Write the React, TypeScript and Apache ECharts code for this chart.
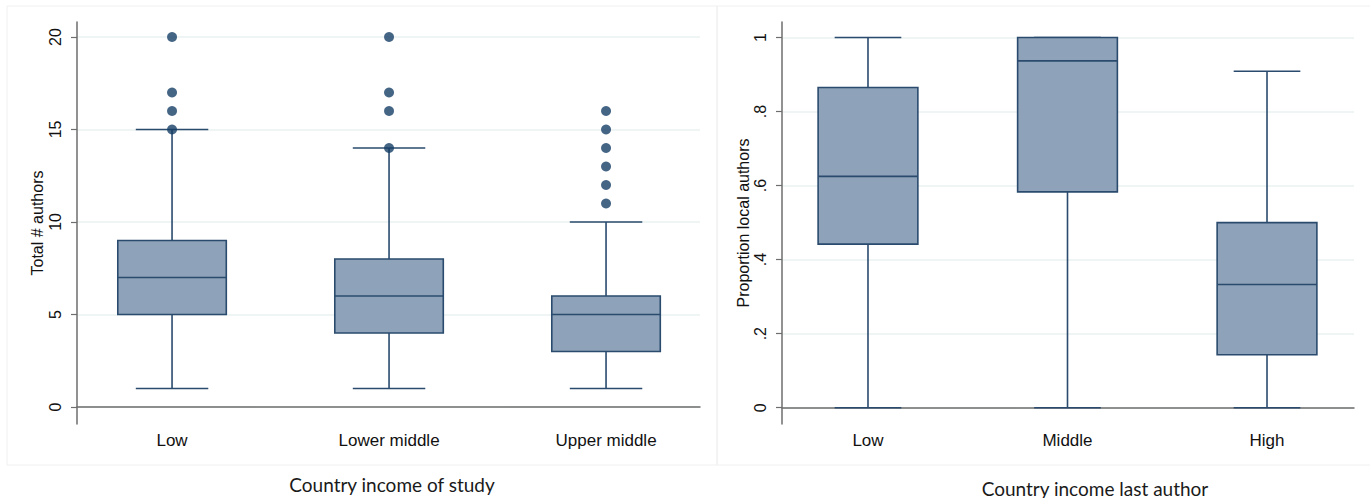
import React, { useEffect, useRef } from "react";
import * as echarts from "echarts";

// ---------- data ----------
const leftCategories = ["Low", "Lower middle", "Upper middle"];
// [min whisker, Q1, median, Q3, max whisker]
const leftLow = [1, 5, 7, 9, 15];
const leftLowerMiddle = [1, 4, 6, 8, 14];
const leftUpperMiddle = [1, 3, 5, 6, 10];
const leftOutliersLow = [15, 16, 17, 20];
const leftOutliersLowerMiddle = [14, 16, 17, 20];
const leftOutliersUpperMiddle = [11, 12, 13, 14, 15, 16];
const leftTicks = [0, 5, 10, 15, 20];

const rightCategories = ["Low", "Middle", "High"];
const rightLow = [0, 0.442, 0.625, 0.865, 1];
const rightMiddle = [0, 0.583, 0.937, 1, 1];
const rightHigh = [0, 0.143, 0.333, 0.5, 0.909];
const rightTicks = [0, 0.2, 0.4, 0.6, 0.8, 1];
const rightTickLabels = ["0", ".2", ".4", ".6", ".8", "1"];

const leftTitle = "Country income of study";
const rightTitle = "Country income last author";
const leftYName = "Total # authors";
const rightYName = "Proportion local authors";

// ---------- styles ----------
const BOX_FILL = "#8ea3b9";
const BOX_STROKE = "#2a4b6e";
const DOT = "#173f66";
const GRID = "#eaf0f1";
const AXIS = "#6e6e6e";
const BOX_HALF = 0.25;
const CAP_HALF = 0.167;

function renderBox(params: any, api: any) {
  const x = api.value(0);
  const lo = api.value(1);
  const q1 = api.value(2);
  const med = api.value(3);
  const q3 = api.value(4);
  const hi = api.value(5);
  const cx = api.coord([x, med])[0];
  const y = (v: number) => api.coord([x, v])[1];
  const bl = api.coord([x - BOX_HALF, q3]);
  const br = api.coord([x + BOX_HALF, q1]);
  const capL = api.coord([x - CAP_HALF, lo])[0];
  const capR = api.coord([x + CAP_HALF, lo])[0];
  const ls = { stroke: BOX_STROKE, lineWidth: 1.6 };
  return {
    type: "group",
    children: [
      { type: "line", shape: { x1: cx, y1: y(hi), x2: cx, y2: y(q3) }, style: ls },
      { type: "line", shape: { x1: cx, y1: y(q1), x2: cx, y2: y(lo) }, style: ls },
      { type: "line", shape: { x1: capL, y1: y(hi), x2: capR, y2: y(hi) }, style: ls },
      { type: "line", shape: { x1: capL, y1: y(lo), x2: capR, y2: y(lo) }, style: ls },
      {
        type: "rect",
        shape: { x: bl[0], y: bl[1], width: br[0] - bl[0], height: br[1] - bl[1] },
        style: { fill: BOX_FILL, stroke: BOX_STROKE, lineWidth: 1.6 },
      },
      { type: "line", shape: { x1: bl[0], y1: y(med), x2: br[0], y2: y(med) }, style: ls },
    ],
  };
}

function boxRows(boxes: number[][]) {
  return boxes.map((b, i) => [i + 1, ...b]);
}
function outlierRows(groups: number[][]) {
  const out: number[][] = [];
  groups.forEach((g, i) => g.forEach((v) => out.push([i + 1, v])));
  return out;
}

const fmtProp = (v: any) => {
  const num = typeof v === "number" ? v : parseFloat(v);
  let best = 0;
  rightTicks.forEach((t, i) => {
    if (Math.abs(t - num) < Math.abs(rightTicks[best] - num)) best = i;
  });
  return rightTickLabels[best];
};

export default function App() {
  const ref = useRef<HTMLDivElement>(null);
  useEffect(() => {
    document.body.style.margin = "0";
    const chart = echarts.init(ref.current!, null, { renderer: "svg" });
    const font = "'Liberation Sans', Arial, sans-serif";
    const yAxisCommon = (ticks: number[], formatter: any, name: string, gap: number, min: number, max: number) => ({
      type: "value",
      min,
      max,
      name,
      nameLocation: "middle",
      nameGap: gap,
      nameTextStyle: { fontFamily: font, fontSize: 16, color: "#111" },
      axisLine: { show: true, lineStyle: { color: AXIS, width: 1.5 } },
      axisTick: { show: true, length: 6, customValues: ticks, lineStyle: { color: AXIS, width: 1.2 } },
      axisLabel: {
        customValues: ticks,
        rotate: 90,
        margin: 14,
        formatter,
        fontFamily: font,
        fontSize: 16,
        color: "#111",
      },
      splitLine: { show: true, lineStyle: { color: GRID, width: 1.5 } },
    });
    const xAxisCommon = (cats: string[], min: number, max: number) => ({
      type: "value",
      min,
      max,
      axisLine: { show: true, lineStyle: { color: AXIS, width: 1.5 } },
      axisTick: { show: false },
      splitLine: { show: false },
      axisLabel: {
        customValues: [1, 2, 3],
        formatter: (v: number) => cats[Math.round(v) - 1] ?? "",
        margin: 8,
        fontFamily: font,
        fontSize: 17,
        color: "#111",
      },
    });
    chart.setOption({
      animation: false,
      backgroundColor: "#ffffff",
      grid: [
        { left: 77, top: 22, width: 623, height: 402 },
        { left: 782, top: 22, width: 572, height: 402 },
      ],
      xAxis: [
        { gridIndex: 0, ...xAxisCommon(leftCategories, 0.562, 3.433) },
        { gridIndex: 1, ...xAxisCommon(rightCategories, 0.569, 3.436) },
      ],
      yAxis: [
        { gridIndex: 0, ...yAxisCommon(leftTicks, (v: number) => String(v), leftYName, 32, -0.92, 20.81) },
        { gridIndex: 1, ...yAxisCommon(rightTicks, fmtProp, rightYName, 29, -0.044, 1.042) },
      ],
      series: [
        {
          type: "custom",
          xAxisIndex: 0,
          yAxisIndex: 0,
          renderItem: renderBox,
          encode: { x: 0, y: [1, 2, 3, 4, 5] },
          data: boxRows([leftLow, leftLowerMiddle, leftUpperMiddle]),
          z: 2,
        },
        {
          type: "scatter",
          xAxisIndex: 0,
          yAxisIndex: 0,
          symbol: "circle",
          symbolSize: 10,
          itemStyle: { color: DOT },
          data: outlierRows([leftOutliersLow, leftOutliersLowerMiddle, leftOutliersUpperMiddle]),
          z: 3,
        },
        {
          type: "custom",
          xAxisIndex: 1,
          yAxisIndex: 1,
          renderItem: renderBox,
          encode: { x: 0, y: [1, 2, 3, 4, 5] },
          data: boxRows([rightLow, rightMiddle, rightHigh]),
          z: 2,
        },
      ],
      graphic: [
        {
          type: "rect",
          shape: { x: 7, y: 6, width: 710, height: 459 },
          style: { fill: "none", stroke: "#f0f0f0", lineWidth: 1 },
          silent: true,
          z: -10,
        },
        {
          type: "rect",
          shape: { x: 717, y: 6, width: 660, height: 459 },
          style: { fill: "none", stroke: "#f0f0f0", lineWidth: 1 },
          silent: true,
          z: -10,
        },
        {
          type: "text",
          x: 392,
          y: 484,
          style: {
            text: leftTitle,
            fontFamily: "Lato, 'Open Sans', sans-serif",
            fontSize: 19,
            fill: "#1a1a1a",
            align: "center",
            verticalAlign: "middle",
          },
        },
        {
          type: "text",
          x: 1095,
          y: 488,
          style: {
            text: rightTitle,
            fontFamily: "Lato, 'Open Sans', sans-serif",
            fontSize: 19,
            fill: "#1a1a1a",
            align: "center",
            verticalAlign: "middle",
          },
        },
      ],
    });
    return () => chart.dispose();
  }, []);
  return <div ref={ref} style={{ width: 1370, height: 498 }} />;
}
